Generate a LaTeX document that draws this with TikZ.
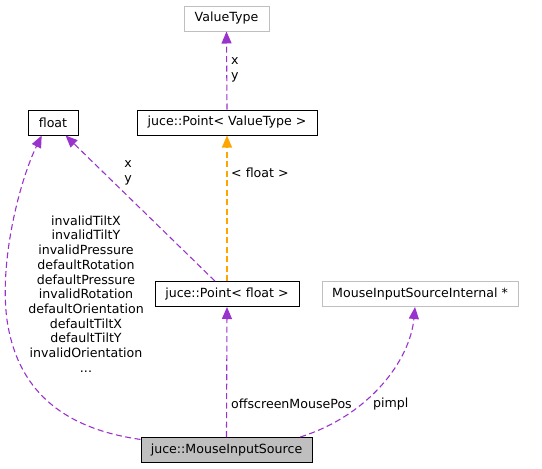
\documentclass[tikz,border=0pt]{standalone}
\usepackage{fontspec}
\setmainfont{DejaVu Sans}
\usetikzlibrary{arrows.meta}
\definecolor{edgepurple}{HTML}{9A32CD}
\definecolor{edgeorange}{HTML}{FFA500}
\definecolor{boxgray}{HTML}{BFBFBF}
\tikzset{
  box/.style={draw=black, line width=1pt, inner sep=0pt, minimum height=25pt, text=black},
  graybox/.style={box, draw=boxgray},
  edgebase/.style={line width=1.1pt, dash pattern=on 6pt off 3.5pt},
  rel/.style={edgebase, color=edgepurple,
    -{Triangle[length=12pt,width=10pt]}},
  inh/.style={edgebase, color=edgeorange,
    -{Triangle[length=12pt,width=10pt]}},
  lbl/.style={inner sep=0pt, align=center}
}
\begin{document}
\begin{tikzpicture}[x=1pt,y=-1pt,font=\fontsize{12.6}{14.7}\selectfont]
\useasboundingbox (0,0) rectangle (542,469);
\node[graybox, minimum width=85pt] (vt) at (226.5,18.5) {ValueType};
\node[box, minimum width=50pt] (fl) at (53,122.5) {float};
\node[box, minimum width=180pt] (pvt) at (227,122.5) {juce::Point< ValueType >};
\node[box, minimum width=144pt] (pf) at (227,294) {juce::Point< float >};
\node[graybox, minimum width=196pt] (msi) at (420,294) {MouseInputSourceInternal *};
\node[box, fill=boxgray, minimum width=171pt] (mis) at (226.5,450) {juce::MouseInputSource};

\draw[rel] (pvt.north) -- (vt.south);
\draw[inh] (pf.north) -- (pvt.south);
\draw[rel] (pf.133) -- (fl.-46);
\draw[rel] (mis.north) -- (pf.south);
\coordinate (c1) at (7,320);
\draw[rel] (mis.173) .. controls (60,428) and (17,388) .. (c1) .. controls (-1,260) and (20,180) .. (fl.-131);
\draw[rel] (mis.10) .. controls (370,415) and (410,360) .. (msi.-111);

\node[lbl, anchor=west, align=left] (l1) at (231,70) {x\\y};
\node[lbl, anchor=west] (l2) at (231,173) {< float >};
\node[lbl] (l3) at (128,173) {x\\y};
\node[lbl] (l4) at (86,294) {invalidTiltX\\invalidTiltY\\invalidPressure\\defaultRotation\\defaultPressure\\invalidRotation\\defaultOrientation\\defaultTiltX\\defaultTiltY\\invalidOrientation\\...};
\node[lbl, anchor=west] (l5) at (231,404) {offscreenMousePos};
\node[lbl, anchor=west] (l6) at (373,404) {pimpl};
\end{tikzpicture}
\end{document}
